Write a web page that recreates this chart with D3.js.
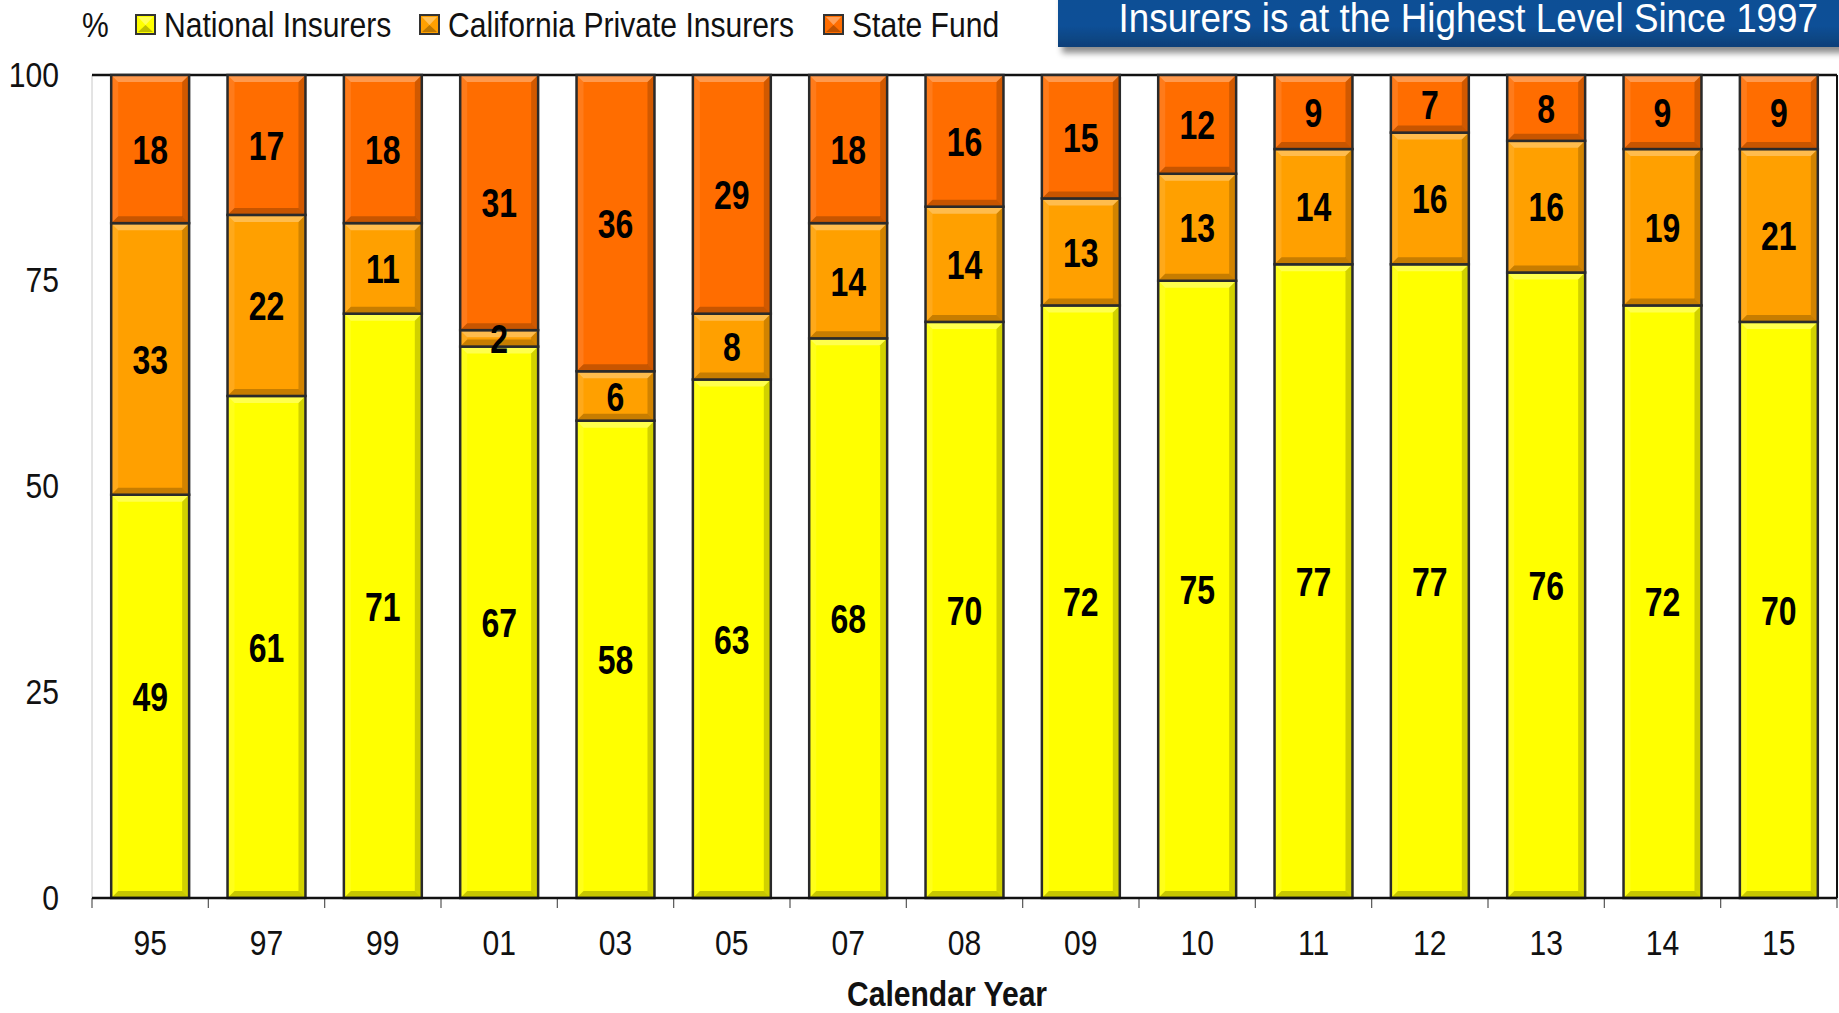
<!DOCTYPE html>
<html>
<head>
<meta charset="utf-8">
<script src="https://cdn.jsdelivr.net/npm/d3@7"></script>
<style>
  html, body { margin: 0; padding: 0; background: #fff; }
  svg { display: block; }
  text { font-family: "Liberation Sans", Arial, sans-serif; }
</style>
</head>
<body>
<svg id="chart" width="1839" height="1013"></svg>
<script>
// Market share of California workers' comp written premium, by calendar year (%)
const years = ["95", "97", "99", "01", "03", "05", "07", "08", "09", "10", "11", "12", "13", "14", "15"];
const nationalInsurers = [49, 61, 71, 67, 58, 63, 68, 70, 72, 75, 77, 77, 76, 72, 70];
const californiaPrivate = [33, 22, 11, 2, 6, 8, 14, 14, 13, 13, 14, 16, 16, 19, 21];
const stateFund = [18, 17, 18, 31, 36, 29, 18, 16, 15, 12, 9, 7, 8, 9, 9];
const yTicks = [0, 25, 50, 75, 100];
const seriesNames = ["National Insurers", "California Private Insurers", "State Fund"];
const seriesColors = ["#ffff00", "#ffa000", "#ff6d00"];
const titleLine = "Insurers is at the Highest Level Since 1997";

const svg = d3.select("#chart");
const plot = { left: 92, right: 1837, top: 75, bottom: 898 };
const NARROW = 0.86;   // horizontal squeeze giving a condensed face

// place a condensed text at (x, y)
function narrowText(parent, x, y, str, opts = {}) {
  const t = parent.append("text")
    .attr("transform", `translate(${x},${y}) scale(${opts.sx || NARROW},1)`)
    .attr("font-size", opts.size || 35)
    .attr("fill", opts.fill || "#111")
    .attr("text-anchor", opts.anchor || "start")
    .text(str);
  if (opts.bold) t.attr("font-weight", "bold");
  if (opts.dy) t.attr("dy", opts.dy);
  return t;
}

const rows = years.map((y, i) => ({
  year: y,
  s0: nationalInsurers[i],
  s1: californiaPrivate[i],
  s2: stateFund[i]
}));
const keys = ["s0", "s1", "s2"];
const stacked = d3.stack().keys(keys)(rows);

const x = d3.scaleBand().domain(years).range([plot.left, plot.right])
  .paddingInner(0.33).paddingOuter(0.165);
const y = d3.scaleLinear().domain([0, 100]).range([plot.bottom, plot.top]);
const color = d3.scaleOrdinal().domain(keys).range(seriesColors);

// ---- defs: title shadow ----
const defs = svg.append("defs");
const sh = defs.append("filter").attr("id", "boxShadow")
  .attr("x", "-5%").attr("y", "-50%").attr("width", "115%").attr("height", "220%");
sh.append("feDropShadow").attr("dx", 4).attr("dy", 6).attr("stdDeviation", 3)
  .attr("flood-color", "#000").attr("flood-opacity", 0.45);
const tg = defs.append("linearGradient").attr("id", "titleGrad")
  .attr("x1", 0).attr("y1", 0).attr("x2", 0).attr("y2", 1);
tg.append("stop").attr("offset", "0%").attr("stop-color", "#0c4f92");
tg.append("stop").attr("offset", "80%").attr("stop-color", "#0a5097");
tg.append("stop").attr("offset", "100%").attr("stop-color", "#083f78");

// ---- title banner (second line visible at top edge) ----
svg.append("rect")
  .attr("x", 1058).attr("y", -60).attr("width", 820).attr("height", 107)
  .attr("fill", "url(#titleGrad)")
  .attr("filter", "url(#boxShadow)");
narrowText(svg, 1818, 32, titleLine, { size: 40, sx: 0.92, anchor: "end", fill: "#fff" });

// ---- legend ----
const legend = svg.append("g");
narrowText(legend, 82, 37, "%");
const legendX = [136, 420, 824];
seriesNames.forEach((name, i) => {
  const g = legend.append("g").attr("transform", `translate(${legendX[i]},15)`);
  g.append("rect").attr("width", 19).attr("height", 19)
    .attr("fill", seriesColors[i]).attr("stroke", "#333").attr("stroke-width", 2);
  g.append("path").attr("d", "M2,2 L17,2 L9.5,10 Z").attr("fill", "#fff").attr("opacity", 0.35);
  g.append("path").attr("d", "M2,17 L17,17 L9.5,10 Z").attr("fill", "#000").attr("opacity", 0.25);
  narrowText(g, 28, 22, name);
});

// ---- y axis labels ----
const yAxis = d3.axisLeft(y).tickValues(yTicks).tickSize(0).tickPadding(0);
const yg = svg.append("g").attr("transform", `translate(59,0)`).call(yAxis);
yg.select(".domain").remove();
yg.selectAll("text").attr("font-size", 35).attr("fill", "#111")
  .attr("font-family", '"Liberation Sans", Arial, sans-serif')
  .attr("transform", `scale(${NARROW},1)`);

// ---- plot frame ----
svg.append("line").attr("x1", plot.left).attr("x2", plot.left)
  .attr("y1", plot.top).attr("y2", plot.bottom).attr("stroke", "#c8c8c8").attr("stroke-width", 1);
svg.append("line").attr("x1", plot.left).attr("x2", plot.right)
  .attr("y1", plot.top).attr("y2", plot.top).attr("stroke", "#111").attr("stroke-width", 2.5);
svg.append("line").attr("x1", plot.right).attr("x2", plot.right)
  .attr("y1", plot.top).attr("y2", plot.bottom).attr("stroke", "#111").attr("stroke-width", 2);

// ---- stacked bars with bevelled faces ----
const bw = x.bandwidth();
const layers = svg.append("g").selectAll("g").data(stacked).join("g");
layers.each(function (layer) {
  const g = d3.select(this);
  layer.forEach(seg => {
    const x0 = x(seg.data.year), x1 = x0 + bw;
    const yTop = y(seg[1]), yBot = y(seg[0]);
    const h = yBot - yTop;
    const b = Math.min(7, h / 2);
    const cell = g.append("g");
    cell.append("rect").attr("x", x0).attr("y", yTop).attr("width", bw).attr("height", h)
      .attr("fill", color(layer.key));
    cell.append("path")
      .attr("d", `M${x0},${yTop} L${x1},${yTop} L${x1 - b},${yTop + b} L${x0 + b},${yTop + b} Z`)
      .attr("fill", "#fff").attr("opacity", 0.3);
    cell.append("path")
      .attr("d", `M${x0},${yTop} L${x0 + b},${yTop + b} L${x0 + b},${yBot - b} L${x0},${yBot} Z`)
      .attr("fill", "#fff").attr("opacity", 0.1);
    cell.append("path")
      .attr("d", `M${x1},${yTop} L${x1 - b},${yTop + b} L${x1 - b},${yBot - b} L${x1},${yBot} Z`)
      .attr("fill", "#000").attr("opacity", 0.18);
    cell.append("path")
      .attr("d", `M${x0},${yBot} L${x0 + b},${yBot - b} L${x1 - b},${yBot - b} L${x1},${yBot} Z`)
      .attr("fill", "#000").attr("opacity", 0.22);
    cell.append("rect").attr("x", x0).attr("y", yTop).attr("width", bw).attr("height", h)
      .attr("fill", "none").attr("stroke", "#2a2a2a").attr("stroke-width", 2.5);
  });
});

// ---- value labels ----
const labels = svg.append("g");
stacked.forEach(layer => {
  layer.forEach(seg => {
    const v = seg[1] - seg[0];
    narrowText(labels, x(seg.data.year) + bw / 2, y((seg[0] + seg[1]) / 2), v,
      { size: 41, sx: 0.78, bold: true, anchor: "middle", fill: "#000", dy: "0.36em" });
  });
});

// ---- x axis ----
const xAxis = d3.axisBottom(x).tickSize(0).tickPadding(0);
const xg = svg.append("g").attr("transform", `translate(0,${plot.bottom})`).call(xAxis);
xg.select(".domain").remove();
xg.selectAll("text").attr("font-size", 35).attr("fill", "#111").attr("dy", 0).attr("y", 57)
  .attr("font-family", '"Liberation Sans", Arial, sans-serif')
  .attr("transform", `scale(${NARROW},1)`);
const step = x.step();
const boundaries = years.map(d => x(d) - step * x.paddingInner() / 2).concat([plot.right]);
svg.append("g").selectAll("line").data(boundaries).join("line")
  .attr("x1", d => d).attr("x2", d => d)
  .attr("y1", plot.bottom).attr("y2", plot.bottom + 10)
  .attr("stroke", "#555").attr("stroke-width", 1.2);
svg.append("line").attr("x1", plot.left).attr("x2", plot.right)
  .attr("y1", plot.bottom).attr("y2", plot.bottom).attr("stroke", "#111").attr("stroke-width", 2.5);

narrowText(svg, 947, 1006, "Calendar Year", { size: 35, bold: true, anchor: "middle" });
</script>
</body>
</html>
